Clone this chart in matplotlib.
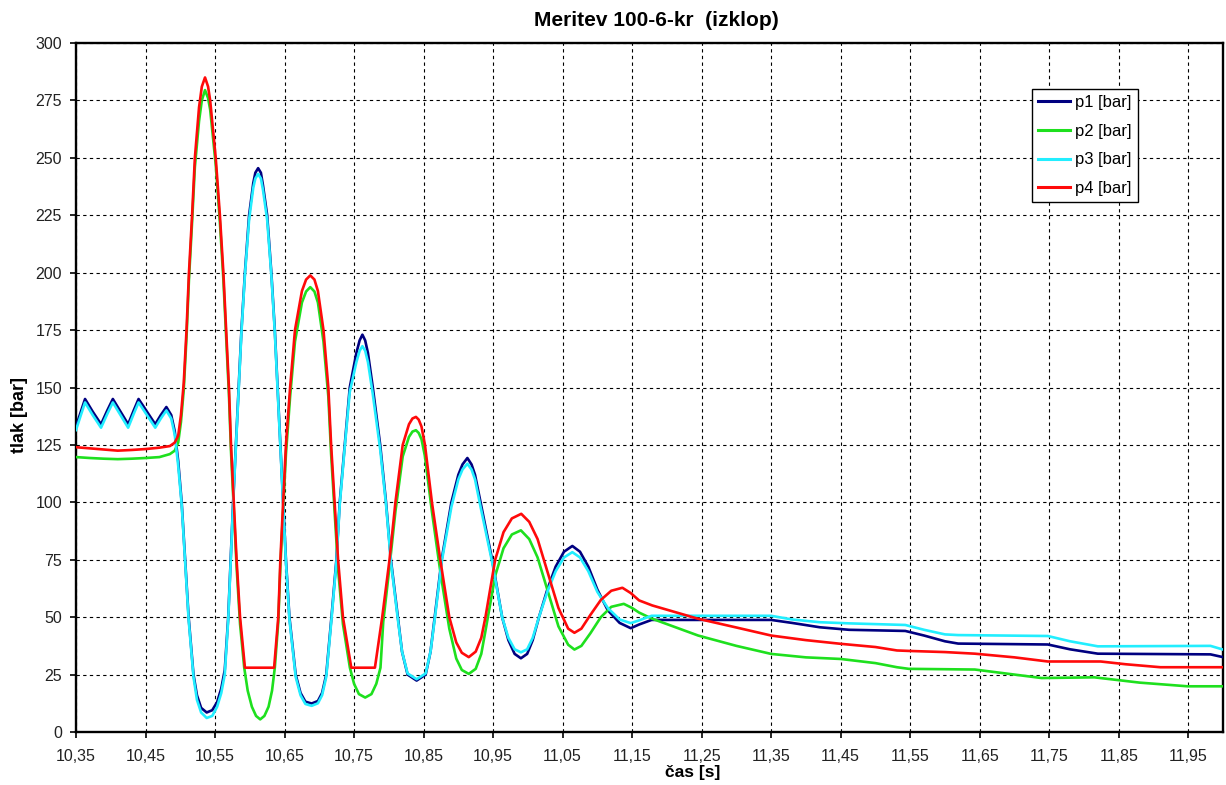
import matplotlib
matplotlib.use("Agg")
import matplotlib.pyplot as plt
from matplotlib import font_manager as fm
from matplotlib.ticker import FixedLocator, FixedFormatter

# ---- measured pressures (time in s, pressure in bar) ----
t_p1 = [10.350, 10.357, 10.363, 10.374, 10.386, 10.395, 10.403, 10.414, 10.425, 10.433,
        10.440, 10.452, 10.464, 10.472, 10.480, 10.487, 10.492, 10.497, 10.502, 10.507,
        10.512, 10.519, 10.524, 10.530, 10.538, 10.546, 10.553, 10.559, 10.564, 10.569,
        10.5725, 10.576, 10.580, 10.584, 10.588, 10.593, 10.599, 10.605, 10.608, 10.612,
        10.616, 10.619, 10.625, 10.631, 10.636, 10.640, 10.644, 10.648, 10.652, 10.657,
        10.666, 10.673, 10.680, 10.689, 10.698, 10.704, 10.710, 10.7175, 10.7246, 10.7294,
        10.7366, 10.7438, 10.7533, 10.758, 10.762, 10.766, 10.770, 10.777, 10.7876, 10.796,
        10.803, 10.813, 10.819, 10.827, 10.840, 10.853, 10.860, 10.866, 10.876, 10.890,
        10.900, 10.906, 10.913, 10.919, 10.924, 10.932, 10.9486, 10.963, 10.972, 10.981,
        10.990, 10.999, 11.007, 11.016, 11.028, 11.040, 11.052, 11.064, 11.075, 11.087,
        11.100, 11.115, 11.132, 11.148, 11.160, 11.178, 11.250, 11.350, 11.380, 11.420,
        11.462, 11.543, 11.570, 11.600, 11.619, 11.748, 11.780, 11.820, 11.982, 12.000]
p1 = [133, 139.5, 145, 139.5, 134, 140, 145, 139.5, 134, 140,
      145, 139.5, 134, 138, 141.5, 138, 131, 118, 100, 75,
      50, 25, 16, 10.5, 8.5, 9.5, 13, 19, 27, 50,
      75, 100, 125, 150, 175, 200, 225, 239, 243.5, 245.5,
      243.5, 238, 225, 200, 175, 150, 125, 100, 75, 50,
      25, 17, 13.2, 12.4, 13.5, 17, 25, 50, 75, 100,
      125, 150, 165, 170.5, 173, 170.5, 165, 150, 125, 100,
      75, 50, 35, 25, 22.4, 25, 35, 50, 75, 100,
      112, 116.5, 119.3, 116.5, 112, 100, 75, 50, 40, 34,
      32.1, 34, 40, 50, 62, 72, 78.5, 81, 78.5, 72,
      62, 53, 47.5, 45.2, 46.8, 48.8, 48.8, 48.8, 47.5, 45.6,
      44.5, 44.0, 42, 39.5, 38.5, 38.1, 36, 34.1, 33.8, 32.6]

t_p2 = [10.350, 10.370, 10.390, 10.410, 10.430, 10.450, 10.470, 10.485, 10.492, 10.497,
        10.501, 10.505, 10.509, 10.5125, 10.517, 10.521, 10.527, 10.531, 10.5356, 10.540,
        10.543, 10.551, 10.557, 10.562, 10.566, 10.570, 10.573, 10.577, 10.581, 10.586,
        10.592, 10.597, 10.603, 10.609, 10.615, 10.621, 10.627, 10.632, 10.636, 10.641,
        10.644, 10.648, 10.652, 10.658, 10.665, 10.675, 10.681, 10.687, 10.693, 10.698,
        10.706, 10.713, 10.717, 10.722, 10.727, 10.734, 10.744, 10.750, 10.757, 10.766,
        10.775, 10.782, 10.788, 10.792, 10.801, 10.8095, 10.820, 10.829, 10.834, 10.839,
        10.843, 10.847, 10.852, 10.862, 10.874, 10.887, 10.897, 10.905, 10.915, 10.925,
        10.933, 10.939, 10.953, 10.965, 10.977, 10.990, 11.002, 11.014, 11.029, 11.044,
        11.058, 11.067, 11.077, 11.090, 11.105, 11.120, 11.138, 11.150, 11.160, 11.179,
        11.245, 11.300, 11.350, 11.400, 11.450, 11.500, 11.531, 11.548, 11.643, 11.700,
        11.739, 11.815, 11.880, 11.949, 12.000]
p2 = [119.7, 119.3, 119, 118.8, 119, 119.3, 119.7, 121, 122.5, 126,
      135, 149, 172, 197, 222, 246, 266, 275, 279.5, 276,
      271, 247, 222, 197, 172, 147, 122, 97, 72, 47,
      28, 18, 11, 7, 5.5, 7, 11, 18, 28, 48,
      72, 97, 121, 146, 170, 187, 191.8, 193.7, 191.8, 187,
      170, 146, 121, 96, 71, 47, 28, 21, 16.5, 15,
      16.5, 21, 28, 48, 72, 96, 120, 128.5, 130.8, 131.4,
      130.2, 127.5, 120, 96, 70, 45, 32, 27, 25.3, 27.5,
      34, 44, 68, 80, 86, 87.8, 84, 76, 61, 46,
      38, 35.9, 37.5, 43, 50, 54.5, 55.8, 54, 52, 49.3,
      42, 37.5, 34, 32.5, 31.8, 30, 28.2, 27.5, 27.2, 25,
      23.5, 23.8, 21.5, 19.9, 19.9]

t_p3 = t_p1
p3 = [131.5, 138, 143.5, 138, 132.5, 138.5, 143.5, 138, 132.5, 138.5,
      143.5, 138, 132.5, 136.5, 140, 136.5, 129.5, 116, 99, 74,
      49, 24, 14, 8.5, 6.1, 7, 11, 17, 25, 49,
      74, 99, 124, 149, 174, 199, 223, 237, 241, 243,
      241, 236, 223, 199, 174, 149, 124, 99, 74, 49,
      24, 16, 12.2, 11.4, 12.5, 16, 24, 49, 74, 99,
      124, 148, 161, 166, 168, 166, 161, 147, 123, 99,
      74, 49, 35, 25.5, 23, 25.5, 35, 49, 74, 98,
      110, 114.3, 116.8, 114.3, 110, 98, 74, 50, 41, 36,
      34.7, 36, 41, 50, 61, 70, 76, 78.3, 76, 70,
      61, 54, 49, 47.4, 48.6, 50.6, 50.6, 50.6, 49, 47.8,
      47.3, 46.6, 44.5, 42.5, 42.2, 41.8, 39.5, 37.3, 37.5, 35.9]

t_p4 = [10.350, 10.370, 10.390, 10.410, 10.430, 10.450, 10.470, 10.485, 10.492, 10.497,
        10.501, 10.505, 10.509, 10.5125, 10.517, 10.521, 10.527, 10.531, 10.5356, 10.540,
        10.543, 10.551, 10.557, 10.562, 10.566, 10.570, 10.573, 10.577, 10.581, 10.586,
        10.593, 10.635, 10.641, 10.644, 10.648, 10.652, 10.658, 10.665, 10.675, 10.681,
        10.687, 10.693, 10.698, 10.706, 10.713, 10.717, 10.722, 10.727, 10.734, 10.746,
        10.780, 10.7905, 10.801, 10.8095, 10.820, 10.829, 10.834, 10.839, 10.843, 10.847,
        10.852, 10.862, 10.874, 10.887, 10.897, 10.905, 10.915, 10.925, 10.933, 10.939,
        10.953, 10.965, 10.977, 10.9905, 11.002, 11.014, 11.029, 11.044, 11.058, 11.067,
        11.077, 11.090, 11.105, 11.120, 11.136, 11.148, 11.160, 11.179, 11.245, 11.300,
        11.350, 11.400, 11.450, 11.500, 11.531, 11.548, 11.600, 11.643, 11.700, 11.748,
        11.824, 11.860, 11.910, 12.000]
p4 = [124, 123.5, 123, 122.5, 122.8, 123.2, 123.8, 124.5, 126, 129,
      138, 152, 175, 200, 225, 250, 272, 281, 285, 281,
      275, 250, 225, 200, 175, 150, 125, 100, 75, 50,
      28, 28, 50, 75, 100, 125, 150, 175, 192, 197,
      198.8, 197, 192, 175, 150, 125, 100, 75, 50, 28,
      28, 50, 75, 100, 125, 134, 136.5, 137.2, 136, 133,
      125, 100, 75, 50, 39, 34.5, 32.6, 35, 41, 50,
      75, 87, 93, 95, 91.5, 84, 69, 54, 45, 43.2,
      45, 51, 57.5, 61.5, 62.8, 60.5, 57.3, 55.1, 49.3, 45.5,
      42, 40, 38.4, 37, 35.5, 35.3, 34.8, 34.1, 32.5, 30.7,
      30.7, 29.5, 28.2, 28.2]

series_names = ["p1 [bar]", "p2 [bar]", "p3 [bar]", "p4 [bar]"]
series_colors = ["#000080", "#1ee01e", "#22eeff", "#ff0a0a"]

x_ticks = [10.35, 10.45, 10.55, 10.65, 10.75, 10.85, 10.95, 11.05, 11.15,
           11.25, 11.35, 11.45, 11.55, 11.65, 11.75, 11.85, 11.95]
x_tick_labels = ["10,35", "10,45", "10,55", "10,65", "10,75", "10,85", "10,95", "11,05",
                 "11,15", "11,25", "11,35", "11,45", "11,55", "11,65", "11,75", "11,85", "11,95"]
y_ticks = [0, 25, 50, 75, 100, 125, 150, 175, 200, 225, 250, 275, 300]


def available(name):
    try:
        fm.findfont(fm.FontProperties(family=name), fallback_to_default=False)
        return True
    except ValueError:
        return False


regular = ["Liberation Sans", "DejaVu Sans"]
if available("Liberation Sans Narrow"):
    narrow, tick_size, xlab_size = ["Liberation Sans Narrow", "DejaVu Sans"], 12, 13
else:
    narrow, tick_size, xlab_size = regular, 11.5, 12.5

W, H = 1226, 785
fig = plt.figure(figsize=(W / 100, H / 100), dpi=100)
ax = fig.add_axes([76 / W, 1 - 732 / H, (1223 - 76) / W, (732 - 43) / H])

for t, v, name, col in zip([t_p1, t_p2, t_p3, t_p4], [p1, p2, p3, p4],
                           series_names, series_colors):
    ax.plot(t, v, color=col, lw=1.9, label=name, zorder=3, solid_joinstyle="round")

ax.set_xlim(10.35, 12.0)
ax.set_ylim(0, 300)
ax.xaxis.set_major_locator(FixedLocator(x_ticks))
ax.xaxis.set_major_formatter(FixedFormatter(x_tick_labels))
ax.yaxis.set_major_locator(FixedLocator(y_ticks))

ax.grid(True, color="black", lw=0.8, linestyle=(0, (3, 3)), zorder=1)
for s in ax.spines.values():
    s.set_linewidth(1.7)
    s.set_color("black")

ax.tick_params(axis="both", direction="out", length=4.5, width=1.2, colors="black")
ax.tick_params(axis="y", pad=5.5)
ax.tick_params(axis="x", pad=8)
for lab in ax.get_xticklabels() + ax.get_yticklabels():
    lab.set_fontfamily(narrow)
    lab.set_fontsize(tick_size)
    lab.set_color("#222222")

fig.text(656 / W, 1 - 20 / H, "Meritev 100-6-kr  (izklop)", ha="center", va="center",
         fontsize=15, fontweight="bold", family=regular)
fig.text(20 / W, 1 - 415 / H, "tlak [bar]", ha="center", va="center", rotation=90,
         fontsize=13, fontweight="bold", family=regular)
fig.text(693 / W, 1 - 773 / H, "čas [s]", ha="center", va="center",
         fontsize=xlab_size, fontweight="bold", family=narrow)

leg = ax.legend(loc="upper left", bbox_to_anchor=(1032 / W, 1 - 89 / H),
                bbox_transform=fig.transFigure, prop={"family": regular, "size": 12},
                frameon=True, fancybox=False, framealpha=1, edgecolor="black",
                borderpad=0.35, labelspacing=0.83, handlelength=1.95, handletextpad=0.3,
                borderaxespad=0)
leg.get_frame().set_linewidth(1.0)
for line in leg.get_lines():
    line.set_linewidth(2.2)

fig.savefig("out.png", dpi=100)
